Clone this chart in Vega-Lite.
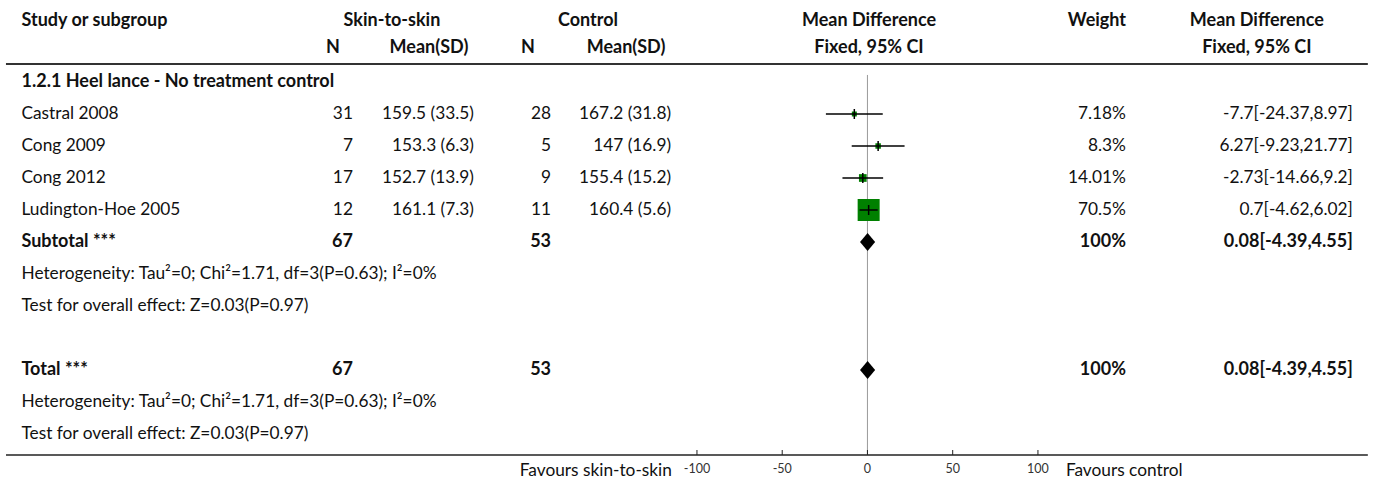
{
  "$schema": "https://vega.github.io/schema/vega-lite/v6.json",
  "width": 1375,
  "height": 487,
  "padding": 0,
  "autosize": {"type": "fit", "contains": "padding"},
  "background": "white",
  "config": {
    "view": {"stroke": null},
    "text": {"font": "Lato", "fontSize": 17.3, "color": "#111", "baseline": "middle"}
  },
  "datasets": {
    "table": [
      {"row": 2, "kind": "section", "study": "1.2.1 Heel lance - No treatment control"},
      {"row": 3, "kind": "study", "study": "Castral 2008", "n1": 31, "mean1": 159.5, "sd1": 33.5, "n2": 28, "mean2": 167.2, "sd2": 31.8, "md": -7.7, "lo": -24.37, "hi": 8.97, "weight": 7.18},
      {"row": 4, "kind": "study", "study": "Cong 2009", "n1": 7, "mean1": 153.3, "sd1": 6.3, "n2": 5, "mean2": 147, "sd2": 16.9, "md": 6.27, "lo": -9.23, "hi": 21.77, "weight": 8.3},
      {"row": 5, "kind": "study", "study": "Cong 2012", "n1": 17, "mean1": 152.7, "sd1": 13.9, "n2": 9, "mean2": 155.4, "sd2": 15.2, "md": -2.73, "lo": -14.66, "hi": 9.2, "weight": 14.01},
      {"row": 6, "kind": "study", "study": "Ludington-Hoe 2005", "n1": 12, "mean1": 161.1, "sd1": 7.3, "n2": 11, "mean2": 160.4, "sd2": 5.6, "md": 0.7, "lo": -4.62, "hi": 6.02, "weight": 70.5},
      {"row": 7, "kind": "total", "study": "Subtotal ***", "n1": 67, "n2": 53, "md": 0.08, "lo": -4.39, "hi": 4.55, "weight": 100},
      {"row": 8, "kind": "note", "study": "Heterogeneity: Tau²=0; Chi²=1.71, df=3(P=0.63); I²=0%"},
      {"row": 9, "kind": "note", "study": "Test for overall effect: Z=0.03(P=0.97)"},
      {"row": 11, "kind": "total", "study": "Total ***", "n1": 67, "n2": 53, "md": 0.08, "lo": -4.39, "hi": 4.55, "weight": 100},
      {"row": 12, "kind": "note", "study": "Heterogeneity: Tau²=0; Chi²=1.71, df=3(P=0.63); I²=0%"},
      {"row": 13, "kind": "note", "study": "Test for overall effect: Z=0.03(P=0.97)"}
    ],
    "ticks": [
      {"v": -100}, {"v": -50}, {"v": 0}, {"v": 50}, {"v": 100}
    ],
    "one": [{}]
  },
  "layer": [
    {
      "data": {"name": "one"},
      "mark": {"type": "rule", "color": "#333", "strokeWidth": 2},
      "encoding": {
        "x": {"datum": -505.3, "type": "quantitative", "scale": {"domain": [-508.8, 297.7], "nice": false, "zero": false}, "axis": null},
        "x2": {"datum": 293.5},
        "y": {"datum": 1.4375, "type": "quantitative", "scale": {"domain": [-0.5625, 14.65625], "reverse": true, "nice": false, "zero": false}, "axis": null}
      }
    },
    {
      "data": {"name": "one"},
      "mark": {"type": "rule", "color": "#222", "strokeWidth": 1.5},
      "encoding": {
        "x": {"datum": -505.3, "type": "quantitative"},
        "x2": {"datum": 293.5},
        "y": {"datum": 13.656, "type": "quantitative"}
      }
    },
    {
      "data": {"name": "one"},
      "mark": {"type": "rule", "color": "#999", "strokeWidth": 1},
      "encoding": {
        "x": {"datum": 0, "type": "quantitative"},
        "y": {"datum": 1.78, "type": "quantitative"},
        "y2": {"datum": 13.656}
      }
    },
    {
      "data": {"name": "ticks"},
      "mark": {"type": "rule", "color": "#222", "strokeWidth": 1},
      "encoding": {
        "x": {"field": "v", "type": "quantitative"},
        "y": {"datum": 13.5, "type": "quantitative"},
        "y2": {"datum": 13.656}
      }
    },
    {
      "data": {"name": "ticks"},
      "mark": {"type": "text", "fontSize": 12.5, "color": "#333", "align": "center"},
      "encoding": {
        "x": {"field": "v", "type": "quantitative"},
        "y": {"datum": 14.1, "type": "quantitative"},
        "text": {"field": "v", "type": "nominal"}
      }
    },
    {
      "data": {"name": "one"},
      "mark": {"type": "text", "text": "Favours skin-to-skin", "align": "right"},
      "encoding": {"x": {"datum": -114.7, "type": "quantitative"}, "y": {"datum": 14.156, "type": "quantitative"}}
    },
    {
      "data": {"name": "one"},
      "mark": {"type": "text", "text": "Favours control", "align": "left"},
      "encoding": {"x": {"datum": 116.4, "type": "quantitative"}, "y": {"datum": 14.156, "type": "quantitative"}}
    },
    {
      "data": {"name": "one"},
      "mark": {"type": "text", "text": "Study or subgroup", "align": "left", "fontWeight": "bold", "fontSize": 18, "dy": 3},
      "encoding": {"x": {"datum": -496.2, "type": "quantitative"}, "y": {"datum": 0, "type": "quantitative"}}
    },
    {
      "data": {"name": "one"},
      "mark": {"type": "text", "text": "Skin-to-skin", "align": "center", "fontWeight": "bold", "fontSize": 18, "dy": 3},
      "encoding": {"x": {"datum": -278.9, "type": "quantitative"}, "y": {"datum": 0, "type": "quantitative"}}
    },
    {
      "data": {"name": "one"},
      "mark": {"type": "text", "text": "Control", "align": "center", "fontWeight": "bold", "fontSize": 18, "dy": 3},
      "encoding": {"x": {"datum": -163.9, "type": "quantitative"}, "y": {"datum": 0, "type": "quantitative"}}
    },
    {
      "data": {"name": "one"},
      "mark": {"type": "text", "text": "Mean Difference", "align": "center", "fontWeight": "bold", "fontSize": 18, "dy": 3},
      "encoding": {"x": {"datum": 0.9, "type": "quantitative"}, "y": {"datum": 0, "type": "quantitative"}}
    },
    {
      "data": {"name": "one"},
      "mark": {"type": "text", "text": "Weight", "align": "center", "fontWeight": "bold", "fontSize": 18, "dy": 3},
      "encoding": {"x": {"datum": 134.6, "type": "quantitative"}, "y": {"datum": 0, "type": "quantitative"}}
    },
    {
      "data": {"name": "one"},
      "mark": {"type": "text", "text": "Mean Difference", "align": "center", "fontWeight": "bold", "fontSize": 18, "dy": 3},
      "encoding": {"x": {"datum": 228.4, "type": "quantitative"}, "y": {"datum": 0, "type": "quantitative"}}
    },
    {
      "data": {"name": "one"},
      "mark": {"type": "text", "text": "N", "align": "center", "fontWeight": "bold", "fontSize": 18, "dy": -2},
      "encoding": {"x": {"datum": -313.5, "type": "quantitative"}, "y": {"datum": 1, "type": "quantitative"}}
    },
    {
      "data": {"name": "one"},
      "mark": {"type": "text", "text": "Mean(SD)", "align": "center", "fontWeight": "bold", "fontSize": 18, "dy": -2},
      "encoding": {"x": {"datum": -257.2, "type": "quantitative"}, "y": {"datum": 1, "type": "quantitative"}}
    },
    {
      "data": {"name": "one"},
      "mark": {"type": "text", "text": "N", "align": "center", "fontWeight": "bold", "fontSize": 18, "dy": -2},
      "encoding": {"x": {"datum": -199.1, "type": "quantitative"}, "y": {"datum": 1, "type": "quantitative"}}
    },
    {
      "data": {"name": "one"},
      "mark": {"type": "text", "text": "Mean(SD)", "align": "center", "fontWeight": "bold", "fontSize": 18, "dy": -2},
      "encoding": {"x": {"datum": -141.6, "type": "quantitative"}, "y": {"datum": 1, "type": "quantitative"}}
    },
    {
      "data": {"name": "one"},
      "mark": {"type": "text", "text": "Fixed, 95% CI", "align": "center", "fontWeight": "bold", "fontSize": 18, "dy": -2},
      "encoding": {"x": {"datum": 0.9, "type": "quantitative"}, "y": {"datum": 1, "type": "quantitative"}}
    },
    {
      "data": {"name": "one"},
      "mark": {"type": "text", "text": "Fixed, 95% CI", "align": "center", "fontWeight": "bold", "fontSize": 18, "dy": -2},
      "encoding": {"x": {"datum": 228.4, "type": "quantitative"}, "y": {"datum": 1, "type": "quantitative"}}
    },
    {
      "data": {"name": "table"},
      "transform": [{"filter": "datum.kind == 'study' || datum.kind == 'note'"}],
      "mark": {"type": "text", "align": "left"},
      "encoding": {
        "x": {"datum": -496.2, "type": "quantitative"},
        "y": {"field": "row", "type": "quantitative"},
        "text": {"field": "study"}
      }
    },
    {
      "data": {"name": "table"},
      "transform": [{"filter": "datum.kind == 'section' || datum.kind == 'total'"}],
      "mark": {"type": "text", "align": "left", "fontWeight": "bold", "fontSize": 18},
      "encoding": {
        "x": {"datum": -496.2, "type": "quantitative"},
        "y": {"field": "row", "type": "quantitative"},
        "text": {"field": "study"}
      }
    },
    {
      "data": {"name": "table"},
      "transform": [{"filter": "datum.kind == 'study'"}],
      "mark": {"type": "text", "align": "right"},
      "encoding": {
        "x": {"datum": -301.8, "type": "quantitative"},
        "y": {"field": "row", "type": "quantitative"},
        "text": {"field": "n1"}
      }
    },
    {
      "data": {"name": "table"},
      "transform": [{"filter": "datum.kind == 'total'"}],
      "mark": {"type": "text", "align": "right", "fontWeight": "bold", "fontSize": 18},
      "encoding": {
        "x": {"datum": -301.8, "type": "quantitative"},
        "y": {"field": "row", "type": "quantitative"},
        "text": {"field": "n1"}
      }
    },
    {
      "data": {"name": "table"},
      "transform": [{"filter": "datum.kind == 'study'"}, {"calculate": "datum.mean1 + ' (' + datum.sd1 + ')'", "as": "ms1"}],
      "mark": {"type": "text", "align": "right"},
      "encoding": {
        "x": {"datum": -230.8, "type": "quantitative"},
        "y": {"field": "row", "type": "quantitative"},
        "text": {"field": "ms1"}
      }
    },
    {
      "data": {"name": "table"},
      "transform": [{"filter": "datum.kind == 'study'"}],
      "mark": {"type": "text", "align": "right"},
      "encoding": {
        "x": {"datum": -185.6, "type": "quantitative"},
        "y": {"field": "row", "type": "quantitative"},
        "text": {"field": "n2"}
      }
    },
    {
      "data": {"name": "table"},
      "transform": [{"filter": "datum.kind == 'total'"}],
      "mark": {"type": "text", "align": "right", "fontWeight": "bold", "fontSize": 18},
      "encoding": {
        "x": {"datum": -185.6, "type": "quantitative"},
        "y": {"field": "row", "type": "quantitative"},
        "text": {"field": "n2"}
      }
    },
    {
      "data": {"name": "table"},
      "transform": [{"filter": "datum.kind == 'study'"}, {"calculate": "datum.mean2 + ' (' + datum.sd2 + ')'", "as": "ms2"}],
      "mark": {"type": "text", "align": "right"},
      "encoding": {
        "x": {"datum": -115.2, "type": "quantitative"},
        "y": {"field": "row", "type": "quantitative"},
        "text": {"field": "ms2"}
      }
    },
    {
      "data": {"name": "table"},
      "transform": [{"filter": "datum.kind == 'study'"}, {"calculate": "datum.weight + '%'", "as": "wt"}],
      "mark": {"type": "text", "align": "right"},
      "encoding": {
        "x": {"datum": 151.6, "type": "quantitative"},
        "y": {"field": "row", "type": "quantitative"},
        "text": {"field": "wt"}
      }
    },
    {
      "data": {"name": "table"},
      "transform": [{"filter": "datum.kind == 'total'"}, {"calculate": "datum.weight + '%'", "as": "wt"}],
      "mark": {"type": "text", "align": "right", "fontWeight": "bold", "fontSize": 18},
      "encoding": {
        "x": {"datum": 151.6, "type": "quantitative"},
        "y": {"field": "row", "type": "quantitative"},
        "text": {"field": "wt"}
      }
    },
    {
      "data": {"name": "table"},
      "transform": [{"filter": "datum.kind == 'study'"}, {"calculate": "datum.md + '[' + datum.lo + ',' + datum.hi + ']'", "as": "ci"}],
      "mark": {"type": "text", "align": "right"},
      "encoding": {
        "x": {"datum": 284.7, "type": "quantitative"},
        "y": {"field": "row", "type": "quantitative"},
        "text": {"field": "ci"}
      }
    },
    {
      "data": {"name": "table"},
      "transform": [{"filter": "datum.kind == 'total'"}, {"calculate": "datum.md + '[' + datum.lo + ',' + datum.hi + ']'", "as": "ci"}],
      "mark": {"type": "text", "align": "right", "fontWeight": "bold", "fontSize": 18},
      "encoding": {
        "x": {"datum": 284.7, "type": "quantitative"},
        "y": {"field": "row", "type": "quantitative"},
        "text": {"field": "ci"}
      }
    },
    {
      "data": {"name": "table"},
      "transform": [{"filter": "datum.kind == 'study'"}],
      "mark": {"type": "point", "shape": "square", "filled": true, "color": "#008000", "opacity": 1},
      "encoding": {
        "x": {"field": "md", "type": "quantitative"},
        "y": {"field": "row", "type": "quantitative"},
        "size": {"field": "weight", "type": "quantitative", "scale": {"type": "pow", "exponent": 1.3, "domain": [0, 70.5], "range": [0, 484]}, "legend": null}
      }
    },
    {
      "data": {"name": "table"},
      "transform": [{"filter": "datum.kind == 'study'"}],
      "mark": {"type": "rule", "color": "#000", "strokeWidth": 1.5},
      "encoding": {
        "x": {"field": "lo", "type": "quantitative"},
        "x2": {"field": "hi"},
        "y": {"field": "row", "type": "quantitative"}
      }
    },
    {
      "data": {"name": "table"},
      "transform": [{"filter": "datum.kind == 'study'"}],
      "mark": {"type": "point", "shape": "M0,-1L0,1", "filled": false, "color": "#000", "strokeWidth": 1.5, "size": 100, "opacity": 1},
      "encoding": {
        "x": {"field": "md", "type": "quantitative"},
        "y": {"field": "row", "type": "quantitative"}
      }
    },
    {
      "data": {"name": "table"},
      "transform": [{"filter": "datum.kind == 'total'"}],
      "mark": {"type": "point", "shape": "M0,-1L0.84,0L0,1L-0.84,0Z", "filled": true, "color": "#000", "size": 324, "opacity": 1},
      "encoding": {
        "x": {"field": "md", "type": "quantitative"},
        "y": {"field": "row", "type": "quantitative"}
      }
    }
  ]
}
